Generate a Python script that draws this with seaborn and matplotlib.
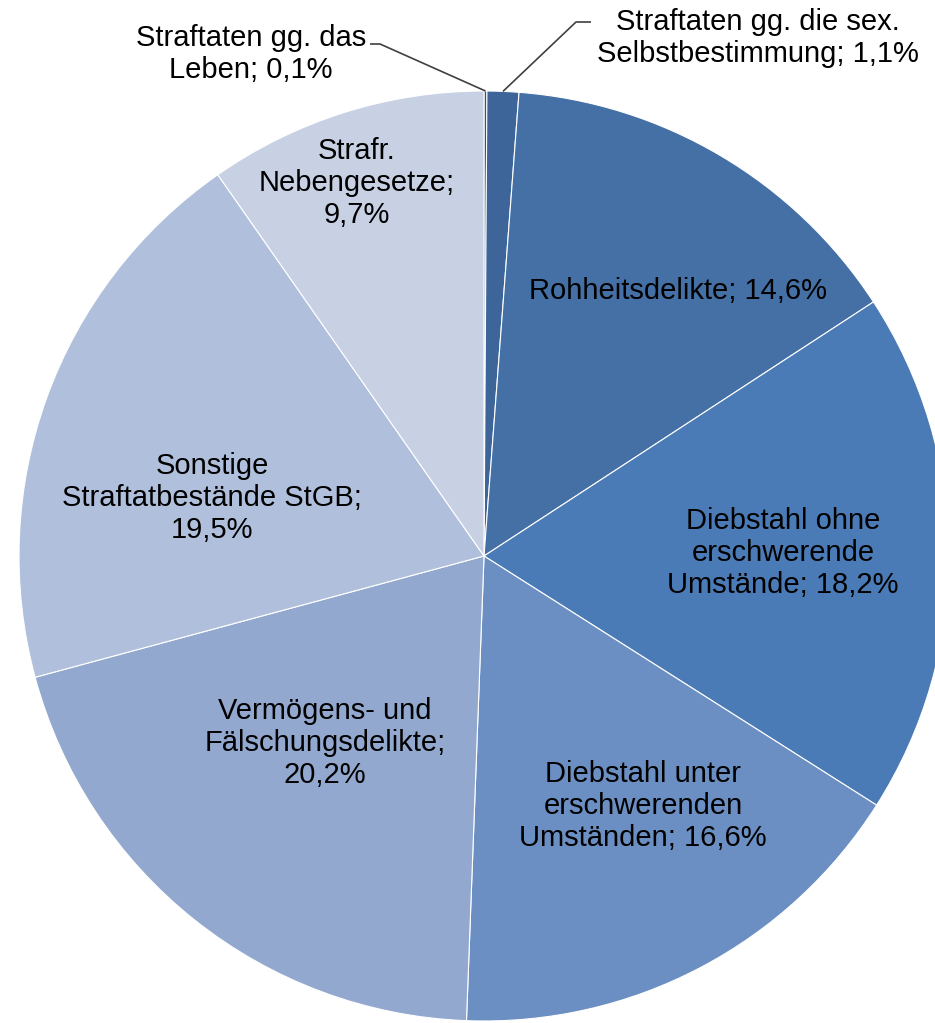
import numpy as np
import seaborn as sns
import matplotlib.pyplot as plt

categories = [
    "Straftaten gg. das\nLeben",
    "Straftaten gg. die sex.\nSelbstbestimmung",
    "Rohheitsdelikte",
    "Diebstahl ohne\nerschwerende\nUmstände",
    "Diebstahl unter\nerschwerenden\nUmständen",
    "Vermögens- und\nFälschungsdelikte;\n",
    "Sonstige\nStraftatbestände StGB;\n",
    "Strafr.\nNebengesetze;\n",
]
shares = [0.1, 1.1, 14.6, 18.2, 16.6, 20.2, 19.5, 9.7]
colors = ["#2f5583", "#3d6599", "#4470a6", "#4a7bb6", "#6b8fc3",
          "#93a8cf", "#b0c0dc", "#c8d1e4"]

sns.set_theme(style="white")
plt.rcParams["font.family"] = ["Liberation Sans", "DejaVu Sans"]

W, H = 935, 1023
cx, cy, R = 484, 556, 465  # pie centre / radius in pixels from top-left

fig = plt.figure(figsize=(W / 100, H / 100), dpi=100)
ax = fig.add_axes([0, 0, 1, 1])

ax.pie(shares, colors=colors, startangle=90, counterclock=False, radius=R,
       center=(0, 0), wedgeprops=dict(edgecolor="white", linewidth=0.8))
ax.set_aspect("equal")
ax.set_xlim(-cx, W - cx)
ax.set_ylim(-(H - cy), cy)
ax.axis("off")


def fmt(v):
    return f"{v:.1f}".replace(".", ",") + "%"


def label_text(cat, v):
    if cat.endswith("\n"):
        return cat + fmt(v)
    return cat + "; " + fmt(v)


# label centres (pixels, from top-left)
label_pos = [(251, 54), (758, 38), (678, 291), (783, 553), (643, 806),
             (325, 743), (212, 498), (357, 183)]
fs = 21
for cat, v, (px, py) in zip(categories, shares, label_pos):
    ax.text(px - cx, cy - py, label_text(cat, v), ha="center", va="center",
            fontsize=fs, linespacing=1.2, color="black")

# leader lines for the two small slices
cum = np.cumsum([0] + shares)
mids = [90 - (cum[i] + shares[i] / 2) * 3.6 for i in range(2)]
elbows = [((380, 44), (370, 44)), ((576, 22), (591, 22))]
for ang, (e1, e2) in zip(mids, elbows):
    a = np.deg2rad(ang)
    x0, y0 = R * np.cos(a), R * np.sin(a)
    ax.plot([x0, e1[0] - cx, e2[0] - cx], [y0, cy - e1[1], cy - e2[1]],
            color="#404040", lw=1.2, solid_capstyle="butt")

fig.savefig("out.png", dpi=100)
